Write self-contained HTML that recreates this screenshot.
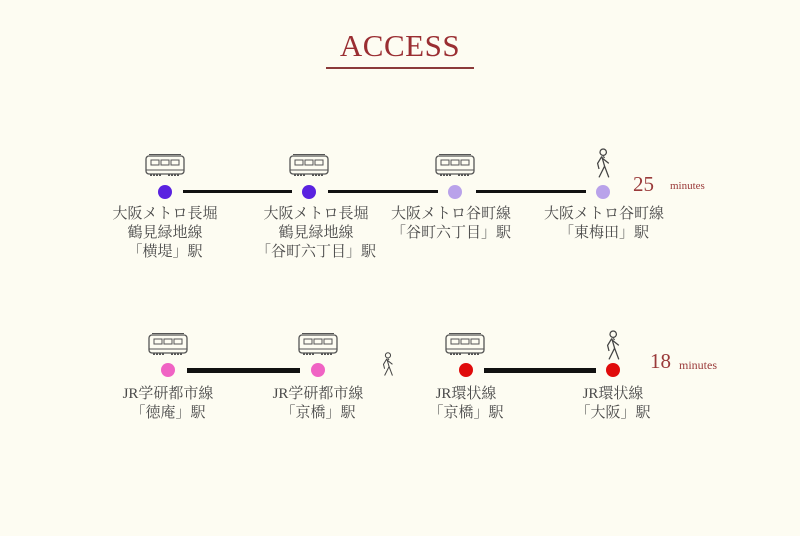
<!DOCTYPE html>
<html><head><meta charset="utf-8"><style>
body{margin:0;width:800px;height:536px;background:#fdfcf2;position:relative;overflow:hidden;font-family:"Liberation Serif","Noto Serif CJK SC",serif;}
.t{position:absolute;width:200px;text-align:center;font-size:15px;line-height:19px;color:#4a4a4a;font-family:"Liberation Serif","Noto Serif CJK SC",serif;}
.d{position:absolute;width:14px;height:14px;border-radius:50%;}
.l{position:absolute;background:#111;}
svg.ic{position:absolute;}
</style></head><body>
<div style="position:absolute;left:300px;top:28px;width:200px;text-align:center;font-size:31px;color:#9a2e32;letter-spacing:0.5px">ACCESS</div>
<div style="position:absolute;left:326px;top:67px;width:148px;height:1.5px;background:#8b3a3a"></div>

<svg width="0" height="0" style="position:absolute"><defs>
<g id="tr"><rect x="1" y="3" width="38" height="18" rx="3" fill="none" stroke="#555" stroke-width="1.3"/><line x1="4" y1="1.5" x2="36" y2="1.5" stroke="#555"/><rect x="6" y="7" width="8" height="5" fill="none" stroke="#555"/><rect x="16" y="7" width="8" height="5" fill="none" stroke="#555"/><rect x="26" y="7" width="8" height="5" fill="none" stroke="#555"/><line x1="1" y1="17" x2="39" y2="17" stroke="#555"/><path d="M5 22h12M23 22h12" stroke="#555" stroke-width="2" stroke-dasharray="2 1"/></g>
<g id="wk" fill="none" stroke="#444" stroke-width="0.9" transform="scale(1.4)"><circle cx="8" cy="3" r="2.3"/><path d="M7 6l-3 5 1 4M7 6l2 7-4 8M9 13l3 8M7 7l5 4M8 6l1 1"/></g>
</defs></svg>

<svg class="ic" style="left:145px;top:153px" width="41" height="26"><use href="#tr"/></svg>
<svg class="ic" style="left:289px;top:153px" width="41" height="26"><use href="#tr"/></svg>
<svg class="ic" style="left:435px;top:153px" width="41" height="26"><use href="#tr"/></svg>
<svg class="ic" style="left:592px;top:148px" width="24" height="33"><use href="#wk"/></svg>

<div class="d" style="left:158px;top:185px;background:#5a22e0"></div>
<div class="d" style="left:302px;top:185px;background:#5a22e0"></div>
<div class="d" style="left:448px;top:185px;background:#b9a2ea"></div>
<div class="d" style="left:596px;top:185px;background:#b9a2ea"></div>
<div class="l" style="left:183px;top:190px;width:109px;height:3px"></div>
<div class="l" style="left:328px;top:190px;width:110px;height:3px"></div>
<div class="l" style="left:476px;top:190px;width:110px;height:3px"></div>
<div style="position:absolute;left:633px;top:172px;font-size:21px;color:#9a3a3a">25</div>
<div style="position:absolute;left:670px;top:180px;font-size:11px;color:#9a3a3a">minutes</div>

<div class="t" style="left:65px;top:205px">大阪メトロ長堀<br>鶴見緑地線<br>「横堤」駅</div>
<div class="t" style="left:216px;top:205px">大阪メトロ長堀<br>鶴見緑地線<br>「谷町六丁目」駅</div>
<div class="t" style="left:351px;top:205px">大阪メトロ谷町線<br>「谷町六丁目」駅</div>
<div class="t" style="left:504px;top:205px">大阪メトロ谷町線<br>「東梅田」駅</div>

<svg class="ic" style="left:148px;top:332px" width="41" height="26"><use href="#tr"/></svg>
<svg class="ic" style="left:298px;top:332px" width="41" height="26"><use href="#tr"/></svg>
<svg class="ic" style="left:445px;top:332px" width="41" height="26"><use href="#tr"/></svg>
<svg class="ic" style="left:379px;top:352px" width="20" height="26"><use href="#wk" transform="scale(0.8)"/></svg>
<svg class="ic" style="left:602px;top:330px" width="24" height="33"><use href="#wk"/></svg>

<div class="d" style="left:161px;top:363px;background:#f063c4"></div>
<div class="d" style="left:311px;top:363px;background:#f063c4"></div>
<div class="d" style="left:459px;top:363px;background:#e00b0b"></div>
<div class="d" style="left:606px;top:363px;background:#e00b0b"></div>
<div class="l" style="left:187px;top:368px;width:113px;height:5px"></div>
<div class="l" style="left:484px;top:368px;width:112px;height:5px"></div>
<div style="position:absolute;left:650px;top:349px;font-size:21px;color:#9a3a3a">18</div>
<div style="position:absolute;left:679px;top:358px;font-size:12px;color:#9a3a3a">minutes</div>

<div class="t" style="left:68px;top:385px">JR学研都市線<br>「徳庵」駅</div>
<div class="t" style="left:218px;top:385px">JR学研都市線<br>「京橋」駅</div>
<div class="t" style="left:366px;top:385px">JR環状線<br>「京橋」駅</div>
<div class="t" style="left:513px;top:385px">JR環状線<br>「大阪」駅</div>
</body></html>
